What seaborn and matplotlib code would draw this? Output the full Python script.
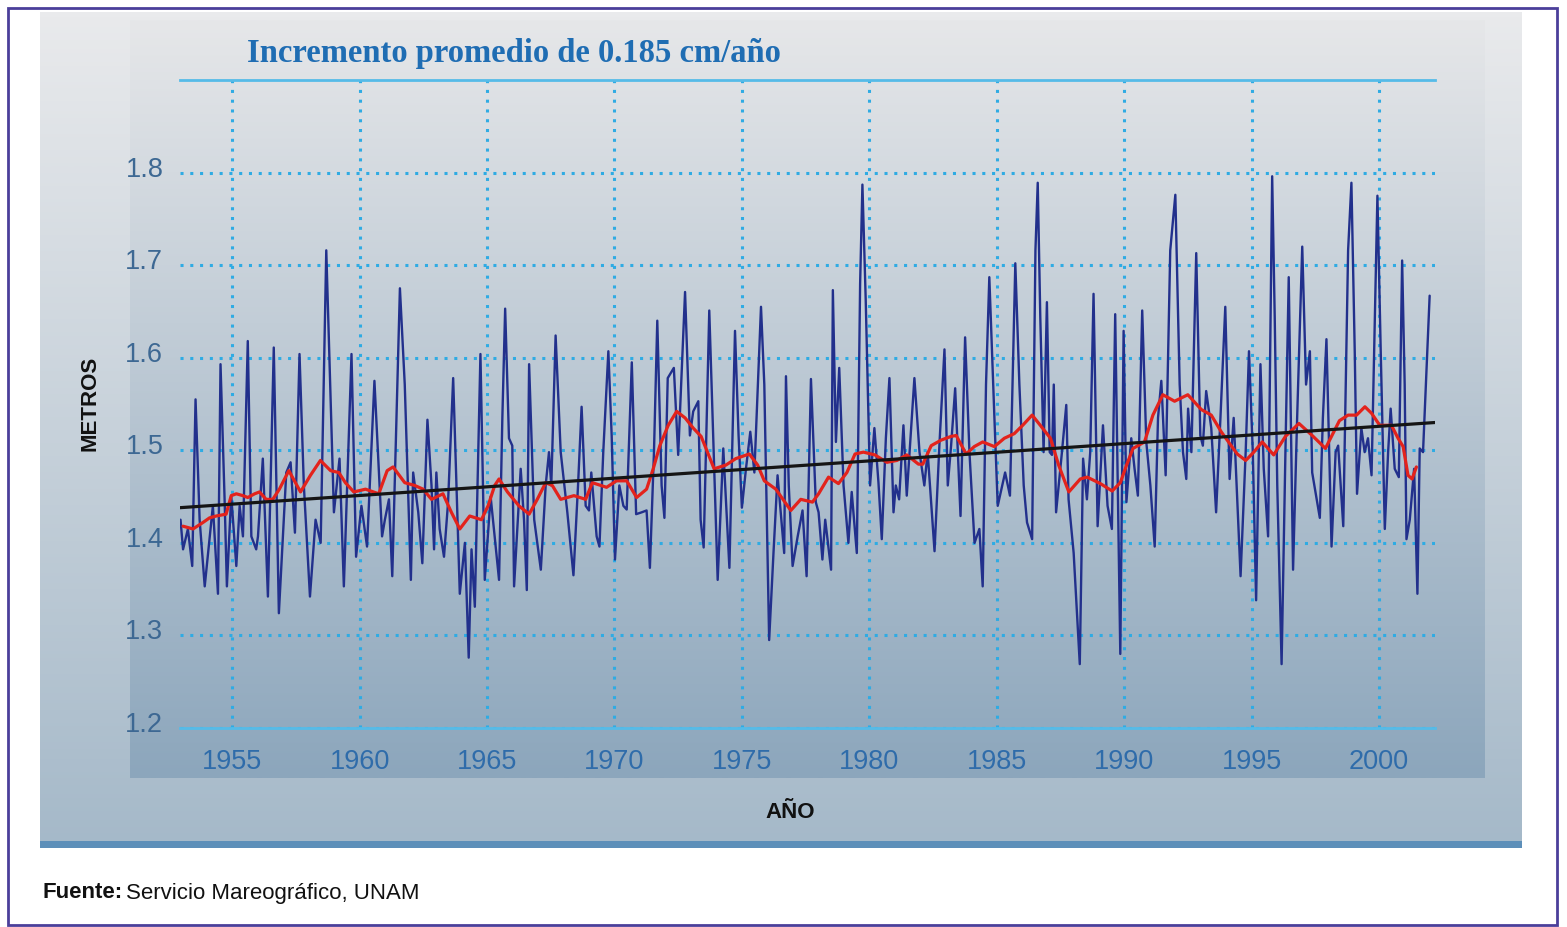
import numpy as np
import matplotlib
matplotlib.use("Agg")
import matplotlib.pyplot as plt
import seaborn as sns
from matplotlib.colors import LinearSegmentedColormap
from matplotlib.patches import Rectangle
import matplotlib.transforms as mtransforms

# ---------------- data ----------------
blue_years = [
    1952.97, 1953.07, 1953.26, 1953.43, 1953.56, 1953.72, 1953.92, 1954.24, 1954.44, 1954.54,
    1954.70, 1954.79, 1954.96, 1955.16, 1955.29, 1955.42, 1955.61, 1955.75, 1955.94, 1956.01,
    1956.20, 1956.40, 1956.63, 1956.83, 1957.12, 1957.29, 1957.46, 1957.64, 1957.81, 1958.05,
    1958.27, 1958.47, 1958.69, 1958.99, 1959.21, 1959.38, 1959.68, 1959.86, 1960.07, 1960.29,
    1960.58, 1960.88, 1960.99, 1961.15, 1961.28, 1961.58, 1961.77, 1962.01, 1962.10, 1962.30,
    1962.46, 1962.66, 1962.82, 1962.92, 1963.01, 1963.14, 1963.31, 1963.47, 1963.67, 1963.93,
    1964.13, 1964.28, 1964.39, 1964.52, 1964.74, 1964.91, 1965.14, 1965.47, 1965.60, 1965.71,
    1965.86, 1965.99, 1966.06, 1966.32, 1966.45, 1966.56, 1966.65, 1966.85, 1967.11, 1967.30,
    1967.43, 1967.52, 1967.69, 1967.89, 1968.15, 1968.39, 1968.57, 1968.71, 1968.87, 1969.00,
    1969.09, 1969.30, 1969.41, 1969.56, 1969.76, 1969.89, 1970.02, 1970.19, 1970.35, 1970.48,
    1970.68, 1970.85, 1971.07, 1971.26, 1971.39, 1971.55, 1971.68, 1971.85, 1971.96, 1972.09,
    1972.33, 1972.50, 1972.77, 1972.96, 1973.09, 1973.29, 1973.38, 1973.50, 1973.72, 1973.85,
    1974.05, 1974.27, 1974.51, 1974.73, 1974.87, 1975.00, 1975.16, 1975.33, 1975.49, 1975.75,
    1975.88, 1976.07, 1976.24, 1976.40, 1976.66, 1976.73, 1976.84, 1976.99, 1977.19, 1977.38,
    1977.54, 1977.71, 1977.90, 1978.01, 1978.16, 1978.27, 1978.50, 1978.57, 1978.69, 1978.82,
    1978.99, 1979.18, 1979.31, 1979.51, 1979.64, 1979.73, 1979.86, 1980.03, 1980.20, 1980.36,
    1980.49, 1980.65, 1980.79, 1980.95, 1981.04, 1981.17, 1981.34, 1981.47, 1981.77, 1981.97,
    1982.16, 1982.29, 1982.56, 1982.75, 1982.95, 1983.08, 1983.21, 1983.37, 1983.58, 1983.76,
    1983.93, 1984.13, 1984.32, 1984.45, 1984.58, 1984.71, 1984.91, 1985.04, 1985.33, 1985.52,
    1985.73, 1985.89, 1986.06, 1986.19, 1986.39, 1986.52, 1986.61, 1986.71, 1986.84, 1986.97,
    1987.08, 1987.17, 1987.24, 1987.33, 1987.56, 1987.73, 1987.82, 1988.02, 1988.26, 1988.39,
    1988.54, 1988.67, 1988.80, 1988.96, 1989.17, 1989.35, 1989.52, 1989.65, 1989.85, 1989.98,
    1990.09, 1990.28, 1990.41, 1990.54, 1990.71, 1990.87, 1991.03, 1991.20, 1991.33, 1991.46,
    1991.63, 1991.81, 1992.01, 1992.18, 1992.31, 1992.44, 1992.51, 1992.64, 1992.83, 1992.99,
    1993.09, 1993.22, 1993.42, 1993.61, 1993.78, 1993.97, 1994.14, 1994.30, 1994.57, 1994.77,
    1994.90, 1995.05, 1995.18, 1995.35, 1995.48, 1995.65, 1995.81, 1995.91, 1996.01, 1996.18,
    1996.33, 1996.46, 1996.63, 1996.79, 1996.99, 1997.14, 1997.29, 1997.38, 1997.68, 1997.80,
    1997.94, 1998.14, 1998.30, 1998.40, 1998.60, 1998.79, 1998.92, 1999.05, 1999.14, 1999.31,
    1999.44, 1999.57, 1999.71, 1999.84, 1999.94, 2000.07, 2000.23, 2000.36, 2000.46, 2000.62,
    2000.78, 2000.91, 2001.01, 2001.08, 2001.21, 2001.38, 2001.51, 2001.60, 2001.73, 2001.99,
]
blue_values = [
    1.425, 1.393, 1.415, 1.375, 1.555, 1.425, 1.353, 1.440, 1.345, 1.593,
    1.447, 1.353, 1.451, 1.375, 1.440, 1.407, 1.618, 1.407, 1.393, 1.407,
    1.491, 1.342, 1.611, 1.324, 1.476, 1.487, 1.411, 1.604, 1.462, 1.342,
    1.425, 1.400, 1.716, 1.433, 1.491, 1.353, 1.604, 1.385, 1.440, 1.396,
    1.575, 1.407, 1.425, 1.447, 1.364, 1.675, 1.571, 1.360, 1.476, 1.433,
    1.378, 1.533, 1.462, 1.393, 1.476, 1.415, 1.385, 1.444, 1.578, 1.345,
    1.400, 1.276, 1.393, 1.331, 1.604, 1.360, 1.450, 1.360, 1.535, 1.653,
    1.513, 1.505, 1.353, 1.480, 1.425, 1.349, 1.593, 1.425, 1.371, 1.462,
    1.498, 1.462, 1.624, 1.498, 1.433, 1.365, 1.462, 1.547, 1.440, 1.435,
    1.476, 1.407, 1.396, 1.498, 1.607, 1.516, 1.382, 1.462, 1.440, 1.436,
    1.595, 1.431, 1.433, 1.435, 1.373, 1.498, 1.640, 1.462, 1.427, 1.578,
    1.589, 1.495, 1.671, 1.516, 1.542, 1.553, 1.425, 1.395, 1.651, 1.535,
    1.360, 1.502, 1.373, 1.629, 1.516, 1.438, 1.480, 1.520, 1.476, 1.655,
    1.571, 1.295, 1.389, 1.473, 1.389, 1.580, 1.462, 1.375, 1.407, 1.435,
    1.364, 1.577, 1.444, 1.433, 1.382, 1.425, 1.371, 1.673, 1.509, 1.589,
    1.462, 1.400, 1.455, 1.389, 1.680, 1.787, 1.662, 1.462, 1.524, 1.465,
    1.404, 1.513, 1.578, 1.433, 1.462, 1.447, 1.527, 1.451, 1.578, 1.498,
    1.462, 1.498, 1.391, 1.505, 1.609, 1.462, 1.505, 1.567, 1.429, 1.622,
    1.498, 1.400, 1.415, 1.353, 1.571, 1.687, 1.535, 1.440, 1.476, 1.451,
    1.702, 1.571, 1.462, 1.422, 1.404, 1.716, 1.789, 1.644, 1.498, 1.660,
    1.498, 1.495, 1.571, 1.433, 1.498, 1.549, 1.447, 1.389, 1.269, 1.491,
    1.447, 1.498, 1.669, 1.418, 1.527, 1.440, 1.415, 1.647, 1.280, 1.629,
    1.444, 1.513, 1.480, 1.451, 1.651, 1.509, 1.462, 1.396, 1.535, 1.575,
    1.473, 1.716, 1.776, 1.571, 1.498, 1.469, 1.545, 1.498, 1.713, 1.516,
    1.505, 1.564, 1.524, 1.433, 1.535, 1.655, 1.469, 1.535, 1.364, 1.498,
    1.607, 1.498, 1.338, 1.593, 1.480, 1.407, 1.796, 1.644, 1.462, 1.269,
    1.498, 1.687, 1.371, 1.535, 1.720, 1.571, 1.607, 1.476, 1.427, 1.535,
    1.620, 1.396, 1.498, 1.505, 1.418, 1.716, 1.789, 1.607, 1.453, 1.524,
    1.498, 1.513, 1.473, 1.644, 1.775, 1.607, 1.415, 1.498, 1.545, 1.480,
    1.471, 1.705, 1.571, 1.404, 1.425, 1.480, 1.345, 1.502, 1.498, 1.667,
]

red_years = [
    1953.07, 1953.46, 1953.85, 1954.11, 1954.37, 1954.76, 1954.96, 1955.16, 1955.42, 1955.61,
    1955.88, 1956.07, 1956.33, 1956.59, 1956.85, 1957.22, 1957.68, 1958.07, 1958.46, 1958.86,
    1959.18, 1959.44, 1959.77, 1960.23, 1960.75, 1961.08, 1961.31, 1961.77, 1962.16, 1962.49,
    1962.82, 1963.27, 1963.60, 1963.93, 1964.32, 1964.78, 1965.04, 1965.30, 1965.47, 1965.80,
    1966.25, 1966.65, 1966.97, 1967.30, 1967.56, 1967.89, 1968.41, 1968.87, 1969.13, 1969.46,
    1969.69, 1970.08, 1970.48, 1970.87, 1971.26, 1971.52, 1971.78, 1972.11, 1972.44, 1972.77,
    1973.09, 1973.40, 1973.65, 1973.91, 1974.37, 1974.76, 1975.29, 1975.62, 1975.88, 1976.33,
    1976.92, 1977.31, 1977.77, 1978.01, 1978.40, 1978.79, 1979.12, 1979.44, 1979.77, 1980.22,
    1980.69, 1981.08, 1981.47, 1981.93, 1982.10, 1982.43, 1982.82, 1983.21, 1983.41, 1983.80,
    1984.12, 1984.45, 1984.91, 1985.30, 1985.69, 1986.02, 1986.39, 1986.71, 1987.11, 1987.43,
    1987.83, 1988.28, 1988.55, 1989.07, 1989.53, 1989.85, 1990.11, 1990.35, 1990.80, 1991.13,
    1991.52, 1991.98, 1992.50, 1993.03, 1993.42, 1993.81, 1994.20, 1994.44, 1994.77, 1995.09,
    1995.42, 1995.87, 1996.33, 1996.86, 1997.38, 1997.90, 1998.30, 1998.45, 1998.79, 1999.12,
    1999.45, 1999.71, 2000.03, 2000.49, 2000.75, 2000.95, 2001.14, 2001.30, 2001.47,
]
red_values = [
    1.418, 1.415, 1.422, 1.427, 1.429, 1.431, 1.451, 1.453, 1.451, 1.449,
    1.453, 1.455, 1.447, 1.447, 1.458, 1.478, 1.455, 1.473, 1.489, 1.478,
    1.476, 1.465, 1.455, 1.458, 1.453, 1.478, 1.482, 1.465, 1.462, 1.458,
    1.447, 1.453, 1.433, 1.415, 1.429, 1.425, 1.440, 1.462, 1.469, 1.455,
    1.440, 1.431, 1.447, 1.465, 1.462, 1.447, 1.451, 1.447, 1.465, 1.462,
    1.460, 1.467, 1.467, 1.449, 1.458, 1.480, 1.505, 1.527, 1.542, 1.535,
    1.524, 1.515, 1.498, 1.480, 1.484, 1.491, 1.496, 1.484, 1.467, 1.458,
    1.435, 1.447, 1.444, 1.453, 1.471, 1.464, 1.476, 1.496, 1.498, 1.495,
    1.487, 1.489, 1.495, 1.485, 1.485, 1.505, 1.511, 1.515, 1.516, 1.496,
    1.504, 1.509, 1.504, 1.513, 1.518, 1.527, 1.538, 1.527, 1.513, 1.484,
    1.455, 1.469, 1.471, 1.464, 1.456, 1.465, 1.485, 1.502, 1.509, 1.538,
    1.560, 1.553, 1.560, 1.544, 1.538, 1.520, 1.505, 1.496, 1.489, 1.498,
    1.509, 1.495, 1.515, 1.529, 1.516, 1.502, 1.524, 1.532, 1.538, 1.538,
    1.547, 1.540, 1.527, 1.527, 1.513, 1.504, 1.473, 1.469, 1.482,
]

trend_years = [1952.95, 2002.2]
trend_values = [1.438, 1.530]

x_ticks = [1955, 1960, 1965, 1970, 1975, 1980, 1985, 1990, 1995, 2000]
y_ticks = [1.2, 1.3, 1.4, 1.5, 1.6, 1.7, 1.8]
y_tick_labels = ["1.2", "1.3", "1.4", "1.5", "1.6", "1.7", "1.8"]

title_text = "Incremento promedio de 0.185 cm/año"
y_label = "METROS"
x_label = "AÑO"
source_bold = "Fuente:"
source_rest = "Servicio Mareográfico, UNAM"

# ---------------- style ----------------
sns.set_style("white")
plt.rcParams["font.family"] = ["Liberation Sans", "DejaVu Sans"]

W, H = 1567, 927
fig = plt.figure(figsize=(W / 100, H / 100), dpi=100)
fig.patch.set_facecolor("white")

# background layer in pixel coordinates
bg = fig.add_axes([0, 0, 1, 1], zorder=-10)
bg.axis("off")


def vgrad(ax, x0, x1, y0, y1, c_top, c_bot, z):
    cmap = LinearSegmentedColormap.from_list("g", [c_top, c_bot])
    grad = np.linspace(0, 1, 256).reshape(-1, 1)
    ax.imshow(grad, cmap=cmap, extent=(x0, x1, y1, y0), aspect="auto",
              origin="upper", zorder=z, interpolation="bilinear")


vgrad(bg, 40, 1522, 12, 848, "#e9eaec", "#a5b9c9", 1)          # panel
vgrad(bg, 130, 1485, 20, 778, "#e6e7e9", "#8ca6bc", 2)          # chart box
bg.add_patch(Rectangle((40, 841), 1482, 7, facecolor="#5d8fb9",
                       edgecolor="none", zorder=3))
bg.add_patch(Rectangle((8, 8), W - 18, H - 10, fill=False,
                       edgecolor="#4b3f9a", linewidth=2, zorder=4))
bg.set_xlim(0, W)
bg.set_ylim(H, 0)

# main axes
ax = fig.add_axes([180 / W, 1 - 728 / H, (1435 - 180) / W, (728 - 80) / H])
ax.patch.set_alpha(0)

grid_col = "#2fabe3"
sns.lineplot(x=blue_years, y=blue_values, sort=False, estimator=None,
             color="#22308c", linewidth=1.7, ax=ax, zorder=3)
sns.lineplot(x=red_years, y=red_values, sort=False, estimator=None,
             color="#e3231c", linewidth=2.3, ax=ax, zorder=4)
sns.lineplot(x=trend_years, y=trend_values, sort=False, estimator=None,
             color="#151515", linewidth=2.3, ax=ax, zorder=5)

ax.set_xlim(1952.95, 2002.2)
ax.set_ylim(1.2, 1.9)
ax.set_xticks(x_ticks)
ax.set_yticks(y_ticks)
ax.set_xticklabels([str(v) for v in x_ticks])
ax.set_yticklabels(y_tick_labels)
ax.grid(True, color=grid_col, linestyle=(0, (1, 2.2)), linewidth=2.2, zorder=1)
ax.set_axisbelow(True)
for side in ["left", "right"]:
    ax.spines[side].set_visible(False)
for side in ["top", "bottom"]:
    ax.spines[side].set_color("#56bbe8")
    ax.spines[side].set_linewidth(2)
ax.tick_params(axis="both", length=0)
ax.tick_params(axis="x", pad=15, labelsize=19.5, labelcolor="#2f6caa")
ax.tick_params(axis="y", pad=12, labelsize=19.5, labelcolor="#3d6893")
ax.set_xlabel("")
ax.set_ylabel("")
offset = mtransforms.ScaledTranslation(0, 0.06, fig.dpi_scale_trans)
for lab in ax.get_yticklabels():
    lab.set_transform(lab.get_transform() + offset)

# texts
fig.text(247 / W, 1 - 62 / H, title_text, ha="left", va="baseline",
         fontsize=23.5, fontweight="bold", color="#1f6db3",
         family=["Liberation Serif", "DejaVu Serif"])
fig.text(90 / W, 1 - 403 / H, y_label, rotation=90, ha="center", va="center",
         fontsize=16, fontweight="bold", color="#111111")
fig.text(790 / W, 1 - 813 / H, x_label, ha="center", va="center",
         fontsize=16, fontweight="bold", color="#111111")

t1 = fig.text(42 / W, 1 - 893 / H, source_bold, ha="left", va="center",
              fontsize=16, fontweight="bold", color="#111111")
fig.canvas.draw()
bb = t1.get_window_extent()
fig.text((bb.x1 + 4) / W, 1 - 893 / H, source_rest, ha="left", va="center",
         fontsize=16, color="#111111")

fig.savefig("out.png", dpi=100)
